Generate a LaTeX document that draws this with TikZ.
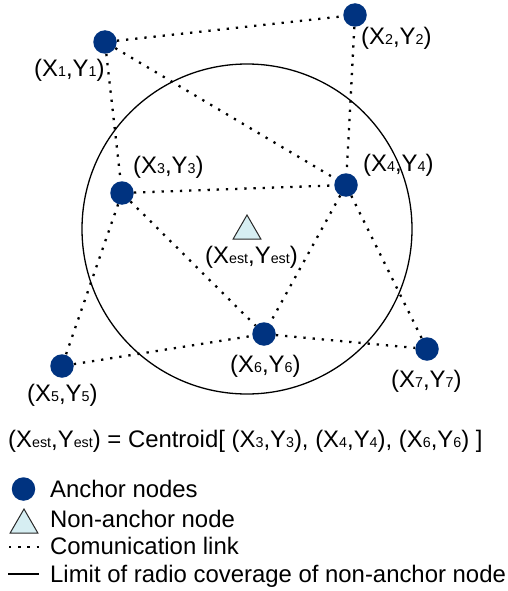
\documentclass[tikz,border=0pt]{standalone}
\usepackage{fontspec}
\setmainfont{Liberation Sans}
\usetikzlibrary{shapes.geometric}
\definecolor{anchorblue}{RGB}{0,51,128}
\definecolor{triblue}{RGB}{214,238,242}
\definecolor{tristroke}{RGB}{40,40,40}
\newcommand{\sbs}[1]{{\fontsize{14.3}{14}\selectfont #1}}
\begin{document}
\begin{tikzpicture}[x=1pt,y=-1pt,
  anchornode/.style={circle,fill=anchorblue,minimum size=23.5pt,inner sep=0pt},
  nonanchor/.style={regular polygon,regular polygon sides=3,draw=tristroke,fill=triblue,line width=1pt,inner sep=0pt,minimum size=32pt},
  link/.style={line width=2.3pt,dash pattern=on 2.3pt off 6.9pt},
  lbl/.style={anchor=base west,inner sep=0pt,font=\fontsize{23.9}{28}\selectfont},
  coverage/.style={line width=1.3pt,draw=black}]
\useasboundingbox (0,0) rectangle (507,591);
% coverage circle
\coordinate (cc) at (247,229);
\draw[coverage] (cc) circle[radius=165];
% anchor nodes
\node[anchornode] (n1) at (105,42) {};
\node[anchornode] (n2) at (355,15) {};
\node[anchornode] (n3) at (122,193) {};
\node[anchornode] (n4) at (346,185) {};
\node[anchornode] (n5) at (62,366) {};
\node[anchornode] (n6) at (264,334) {};
\node[anchornode] (n7) at (427,349) {};
% non-anchor node
\node[nonanchor] (t) at (247,231) {};
% links
\draw[link] (n1) -- (n2);
\draw[link] (n1) -- (n3);
\draw[link] (n1) -- (n4);
\draw[link] (n2) -- (n4);
\draw[link] (n3) -- (n4);
\draw[link] (n3) -- (n5);
\draw[link] (n3) -- (n6);
\draw[link] (n4) -- (n6);
\draw[link] (n4) -- (n7);
\draw[link] (n5) -- (n6);
\draw[link] (n6) -- (n7);
% labels
\node[lbl] (l1) at (34,77) {(X\sbs{1},Y\sbs{1})};
\node[lbl] (l2) at (361,45) {(X\sbs{2},Y\sbs{2})};
\node[lbl] (l3) at (133,173) {(X\sbs{3},Y\sbs{3})};
\node[lbl] (l4) at (363,171) {(X\sbs{4},Y\sbs{4})};
\node[lbl] (le) at (205,263) {(X\sbs{est},Y\sbs{est})};
\node[lbl] (l5) at (27,401) {(X\sbs{5},Y\sbs{5})};
\node[lbl] (l6) at (230,372) {(X\sbs{6},Y\sbs{6})};
\node[lbl] (l7) at (391,387) {(X\sbs{7},Y\sbs{7})};
% formula
\node[lbl] (formula) at (8,447) {(X\sbs{est},Y\sbs{est}) = Centroid[ (X\sbs{3},Y\sbs{3}), (X\sbs{4},Y\sbs{4}), (X\sbs{6},Y\sbs{6}) ]};
% legend
\node[anchornode] (lgA) at (23.5,489) {};
\node[lbl] (lgAt) at (50,497) {Anchor nodes};
\node[nonanchor] (lgT) at (24,525) {};
\node[lbl] (lgTt) at (50,527) {Non-anchor node};
\coordinate (lgDa) at (9,547);
\coordinate (lgDb) at (40,547);
\draw[link] (lgDa) -- (lgDb);
\node[lbl] (lgDt) at (50,554) {Comunication link};
\coordinate (lgSa) at (8,574);
\coordinate (lgSb) at (39,574);
\draw[coverage] (lgSa) -- (lgSb);
\node[lbl] (lgSt) at (50,582) {Limit of radio coverage of non-anchor node};
\end{tikzpicture}
\end{document}
